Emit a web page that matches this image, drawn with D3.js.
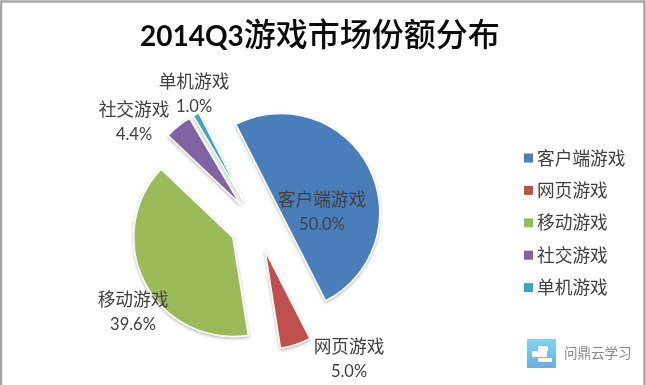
<!DOCTYPE html>
<html>
<head>
<meta charset="utf-8">
<script src="https://cdn.jsdelivr.net/npm/d3@7"></script>
<style>
html, body { margin: 0; padding: 0; background: #fff; }
svg { display: block; filter: blur(0.35px); }
text { font-family: "Noto Sans CJK SC", sans-serif; }
</style>
</head>
<body>
<svg id="chart" width="646" height="385"></svg>
<script>
const categories = ['客户端游戏', '网页游戏', '移动游戏', '社交游戏', '单机游戏']
const shares = [50.0, 5.0, 39.6, 4.4, 1.0]
const colours = ['#4a7ebb', '#c0504d', '#9bbb59', '#8064a2', '#38a6c4']

let width = 646
let height = 385
let svg = d3.select('#chart')

// DEFS
let defs = svg.append('defs')
let shadow = defs.append('filter').attr('id', 'shadow')
    .attr('x', '-20%').attr('y', '-20%').attr('width', '140%').attr('height', '140%')
shadow.append('feDropShadow')
    .attr('dx', 0).attr('dy', 1.5).attr('stdDeviation', 1.5)
    .attr('flood-color', '#000').attr('flood-opacity', 0.3)
let iconFill = defs.append('linearGradient').attr('id', 'iconFill')
    .attr('x1', 0).attr('y1', 0).attr('x2', 0).attr('y2', 1)
iconFill.append('stop').attr('offset', '0%').attr('stop-color', '#7fd6f5')
iconFill.append('stop').attr('offset', '100%').attr('stop-color', '#6aaedd')

// FRAME
svg.append('rect').attr('width', width).attr('height', height).attr('fill', '#fff')
svg.append('path')
    .attr('d', `M1,${height} V1.5 H${width - 1.5} V${height}`)
    .attr('fill', 'none').attr('stroke', '#a6a6a6').attr('stroke-width', 2.5)

// PIE
let cx = 256.7
let cy = 224.8
let radius = 99
let explode = 27

let pie = d3.pie()
    .sort(null)
    .startAngle(-27 * Math.PI / 180)
    .endAngle(333 * Math.PI / 180)
let arc = d3.arc().innerRadius(0).outerRadius(radius)

let slices = pie(shares)

svg.append('g')
    .attr('transform', `translate(${cx},${cy})`)
    .selectAll('path')
    .data(slices)
    .join('path')
        .attr('d', arc)
        .attr('fill', (d, i) => colours[i])
        .attr('stroke', '#fff')
        .attr('stroke-width', 1.5)
        .attr('stroke-linejoin', 'round')
        .attr('filter', 'url(#shadow)')
        .attr('transform', d => {
            let mid = (d.startAngle + d.endAngle) / 2
            return `translate(${explode * Math.sin(mid)},${-explode * Math.cos(mid)})`
        })

// TITLE
let title = svg.append('text')
    .attr('x', 140).attr('y', 46)
    .attr('fill', '#0a0a0a')
title.append('tspan')
    .style('font-family', 'Lato, sans-serif')
    .attr('font-weight', 'bold')
    .attr('font-size', 28)
    .text('2014Q3')
title.append('tspan')
    .attr('font-weight', 500)
    .attr('font-size', 32)
    .text('游戏市场份额分布')

// DATA LABELS
let labelPos = [[322, 200], [349, 347], [133, 300], [134, 110], [194, 82]]

let labels = svg.append('g')
    .selectAll('g')
    .data(slices)
    .join('g')
        .attr('transform', (d, i) => `translate(${labelPos[i][0]},${labelPos[i][1]})`)
        .attr('text-anchor', 'middle')
        .attr('fill', '#404040')
labels.append('text')
    .attr('y', 6)
    .attr('font-size', 17.7)
    .text((d, i) => categories[i])
labels.append('text')
    .attr('y', 30)
    .attr('font-size', 16.5)
    .style('font-family', 'Lato, sans-serif')
    .text(d => d3.format('.1f')(d.value) + '%')

// LEGEND
let legend = svg.append('g')
    .selectAll('g')
    .data(categories)
    .join('g')
        .attr('transform', (d, i) => `translate(524,${158 + i * 32.4})`)
legend.append('rect')
    .attr('y', -4.5).attr('width', 9).attr('height', 9)
    .attr('fill', (d, i) => colours[i])
legend.append('text')
    .attr('x', 13).attr('y', 6.5)
    .attr('font-size', 17.7)
    .attr('fill', '#404040')
    .text(d => d)

// WATERMARK
let mark = svg.append('g').attr('transform', 'translate(527,339)')
mark.append('rect').attr('width', 29).attr('height', 29).attr('fill', 'url(#iconFill)')
mark.append('path')
    .attr('d', 'M11,7 H21 V12 H11 Z M5,12 H20 V18 H5 Z M11,19 H25 V23 H11 Z')
    .attr('fill', '#fff')
svg.append('text')
    .attr('x', 564).attr('y', 358)
    .attr('font-size', 13.5)
    .attr('fill', '#8c8c8c')
    .text('问鼎云学习')
</script>
</body>
</html>
